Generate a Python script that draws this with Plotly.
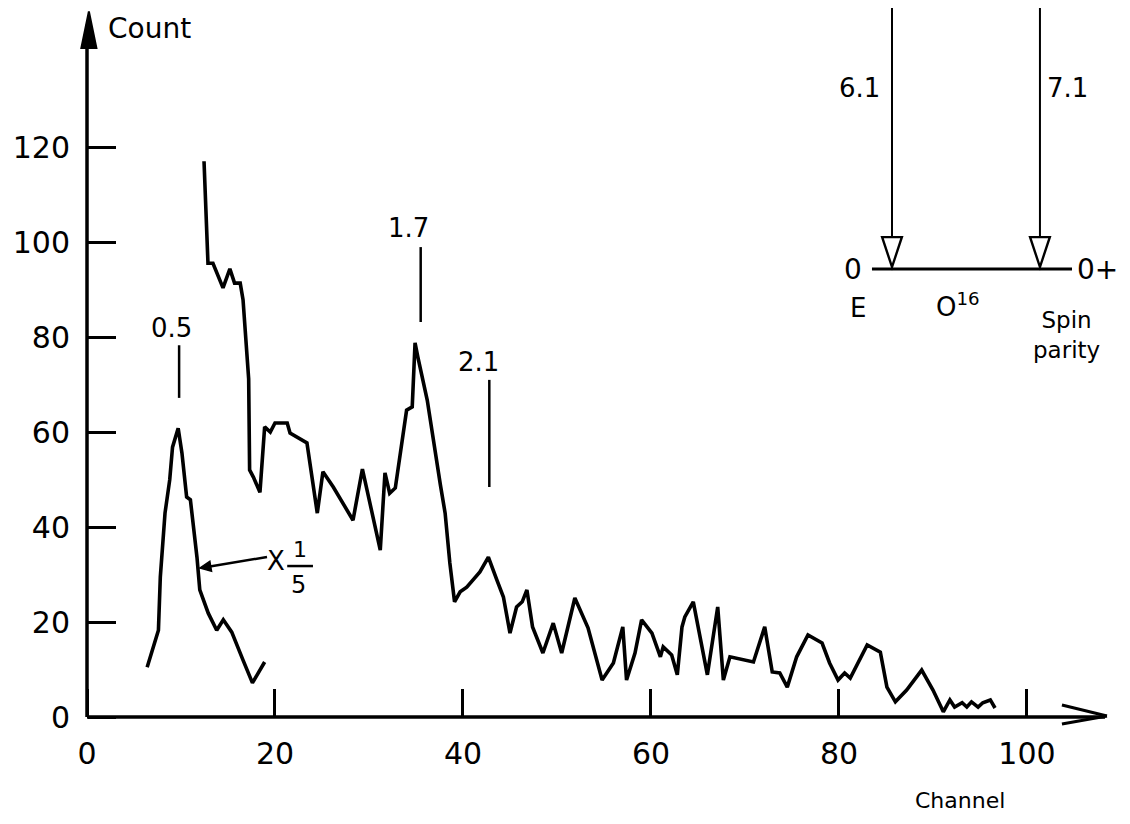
import plotly.graph_objects as go

# ---------------- data ----------------
low_channel = [6.4, 7.6, 7.8, 8.3, 8.8, 9.1, 9.7, 10.1, 10.6, 11.0, 11.7, 12.0,
               12.9, 13.8, 14.5, 15.4, 16.6, 17.6, 18.9]
low_count = [10.5, 18.3, 29.5, 43.0, 50.0, 56.9, 60.9, 55.7, 46.4, 45.8, 33.7, 26.8,
             21.9, 18.3, 20.5, 17.9, 12.0, 7.2, 11.6]

main_channel = [12.45, 12.87, 13.4, 14.47, 15.2, 15.7, 16.3, 16.6, 17.2, 17.3, 17.7, 18.1,
                18.4, 18.9, 19.5, 20.0, 21.3, 21.6, 22.4, 23.4, 24.5, 25.1, 26.2, 27.2,
                28.3, 29.3, 30.3, 31.2, 31.7, 32.2, 32.8, 33.6, 34.0, 34.6, 34.9, 35.2,
                36.2, 37.6, 38.1, 38.6, 39.1, 39.7, 40.4, 41.8, 42.7, 43.6, 44.3, 45.0,
                45.7, 46.3, 46.8, 47.4, 48.5, 49.6, 50.5, 51.9, 53.3, 54.8, 56.0, 57.0,
                57.4, 58.3, 59.0, 60.1, 61.0, 61.3, 62.2, 62.8, 63.3, 63.6, 64.5, 66.0,
                67.1, 67.7, 68.4, 70.9, 72.1, 72.9, 73.7, 74.5, 75.5, 76.7, 78.2, 79.0,
                79.9, 80.6, 81.2, 83.0, 84.4, 85.1, 86.0, 87.2, 88.8, 90.0, 91.1, 91.8,
                92.3, 93.1, 93.6, 94.1, 94.8, 95.3, 96.1, 96.6]
main_count = [117.2, 95.7, 95.7, 90.5, 94.5, 91.5, 91.5, 88.0, 71.3, 52.1, 50.6, 48.5,
              47.4, 61.2, 60.1, 62.0, 62.0, 59.9, 59.0, 57.8, 43.0, 51.7, 48.5, 45.1,
              41.5, 52.3, 43.7, 35.2, 51.5, 47.2, 48.3, 59.9, 64.7, 65.4, 78.9, 75.9,
              66.8, 48.9, 43.0, 32.5, 24.3, 26.4, 27.4, 30.6, 33.7, 28.9, 25.3, 17.7,
              23.2, 24.3, 26.8, 19.0, 13.5, 19.8, 13.5, 25.1, 18.8, 7.8, 11.4, 19.0,
              7.8, 13.5, 20.5, 17.7, 12.7, 14.8, 13.1, 8.9, 19.0, 21.1, 24.3, 8.9,
              23.2, 7.8, 12.7, 11.6, 19.0, 9.5, 9.3, 6.3, 12.7, 17.3, 15.6, 11.4,
              7.8, 9.3, 8.2, 15.2, 13.7, 6.3, 3.2, 5.7, 9.9, 5.7, 1.1, 3.6,
              2.1, 3.0, 2.1, 3.2, 2.1, 3.0, 3.6, 1.9]

x_tick_vals = [0, 20, 40, 60, 80, 100]
x_tick_text = ["0", "20", "40", "60", "80", "100"]
y_tick_vals = [0, 20, 40, 60, 80, 100, 120]
y_tick_text = ["0", "20", "40", "60", "80", "100", "120"]

peak_labels = ["0.5", "1.7", "2.1"]
peak_channels = [9.8, 35.5, 42.8]
level_labels = ["6.1", "7.1"]

# ---------------- figure ----------------
# page body has an 8px margin, so the figure is 8px smaller than the window
W, H = 1122, 816
X0, X1 = -8.404, 110.96
Y0, Y1 = -22.56, 149.52
FONT = "DejaVu Sans"
BLK = "black"

fig = go.Figure()
fig.add_trace(go.Scatter(x=low_channel, y=low_count, mode="lines",
                         line=dict(color=BLK, width=3.6), hoverinfo="skip"))
fig.add_trace(go.Scatter(x=main_channel, y=main_count, mode="lines",
                         line=dict(color=BLK, width=3.6), hoverinfo="skip"))

shapes = []
def line(x0, y0, x1, y1, w=2.5):
    shapes.append(dict(type="line", xref="x", yref="y", x0=x0, y0=y0, x1=x1, y1=y1,
                       line=dict(color=BLK, width=w)))

# axes lines and arrowheads
line(0, 0, 108.3, 0, 3.5)
line(0, 0, 0, 146, 3.5)
line(103.72, 2.53, 108.51, 0.21, 3)
line(103.72, -1.48, 108.51, 0.21, 3)
shapes.append(dict(type="path", xref="x", yref="y",
                   path="M -0.6,141.1 L 0.2,148.8 L 1.0,141.1 Z",
                   fillcolor=BLK, line=dict(color=BLK, width=2)))

# peak marker lines
line(peak_channels[0], 67.3, peak_channels[0], 78.4)
line(peak_channels[1], 83.3, peak_channels[1], 99.1)
line(peak_channels[2], 48.5, peak_channels[2], 71.1)

# "x 1/5" pointer arrow and fraction bar
line(19.15, 33.74, 12.6, 31.6, 2.5)
shapes.append(dict(type="path", xref="x", yref="y",
                   path="M 12.02,31.42 L 13.25,30.73 L 13.07,32.85 Z",
                   fillcolor=BLK, line=dict(color=BLK, width=1.5)))
line(21.3, 31.84, 24.04, 31.84, 2.5)

# energy level diagram
for xc in (85.64, 101.38):
    line(xc, 152, xc, 95.5, 2)
    shapes.append(dict(type="path", xref="x", yref="y",
                       path=f"M {xc-1.05},101.2 L {xc+1.05},101.2 L {xc},94.9 Z",
                       fillcolor="white", line=dict(color=BLK, width=2.4)))
line(83.51, 94.47, 104.79, 94.47, 3)

annotations = []
def text(x, y, s, size=28, **kw):
    annotations.append(dict(x=x, y=y, xref="x", yref="y", text=s, showarrow=False,
                            font=dict(family=FONT, size=size, color=BLK), **kw))

text(6.7, 145.1, "Count", 28)
text(92.87, -17.5, "Channel", 22)
text(9.04, 82.0, peak_labels[0], 26)
text(34.15, 103.1, peak_labels[1], 26)
text(41.6, 74.9, peak_labels[2], 26)
text(20.1, 32.9, "X", 26)
text(22.66, 35.4, "1", 22)
text(22.55, 27.9, "5", 24)
text(82.23, 132.6, level_labels[0], 26)
text(104.36, 132.6, level_labels[1], 26)
text(81.49, 94.47, "0", 28)
text(107.55, 94.47, "0+", 28)
text(82.02, 86.3, "E", 26)
text(92.66, 86.9, "O<sup>16</sup>", 26)
text(104.2, 80.6, "Spin<br>parity", 23)

fig.update_layout(
    width=W, height=H,
    margin=dict(l=0, r=0, t=0, b=0, autoexpand=False),
    paper_bgcolor="white", plot_bgcolor="white",
    showlegend=False,
    shapes=shapes, annotations=annotations,
    xaxis=dict(range=[X0, X1], anchor="free", position=(H - 709) / H,
               showgrid=False, zeroline=False, showline=False,
               tickmode="array", tickvals=x_tick_vals, ticktext=x_tick_text,
               ticks="inside", ticklen=28, tickwidth=2.5, tickcolor=BLK,
               ticklabelstandoff=16,
               tickfont=dict(family=FONT, size=30, color=BLK), automargin=False),
    yaxis=dict(range=[Y0, Y1], anchor="free", position=79 / W,
               showgrid=False, zeroline=False, showline=False,
               tickmode="array", tickvals=y_tick_vals, ticktext=y_tick_text,
               ticks="inside", ticklen=28, tickwidth=2.5, tickcolor=BLK,
               ticklabelstandoff=17,
               tickfont=dict(family=FONT, size=30, color=BLK), automargin=False),
)

fig.write_html("out.html")
